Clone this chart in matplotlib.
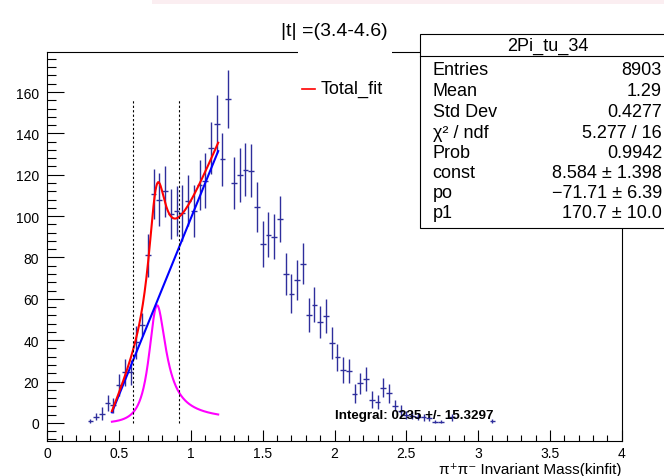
import numpy as np
import matplotlib
matplotlib.use('Agg')
import matplotlib.pyplot as plt
from matplotlib.patches import Rectangle
from matplotlib.lines import Line2D
from matplotlib.ticker import MultipleLocator

plt.rcParams['font.family'] = ['Liberation Sans', 'DejaVu Sans']

# histogram: 0.04 GeV bins, first filled bin centred at 0.30
bin_w = 0.04
first_center = 0.30
counts = [1, 3, 4.5, 9.5, 8.5, 18.5, 24.5, 24.5, 39, 47.5,
          81, 110.5, 108, 112, 101, 102.5, 101.5, 107.5, 102.5, 115,
          117, 133, 144.5, 127.5, 156.5, 116, 120, 122.5, 122, 104.5,
          86.5, 91, 90, 98.5, 72, 62.5, 69, 77, 52.3, 57.2,
          48.8, 51.7, 38.6, 31.8, 25.7, 25.1, 14.1, 19.2, 21.3, 11.3,
          10, 17.1, 14.4, 8.4, 6, 4, 3.5, 3, 2.7, 2.3,
          0.6, 0.6, 0, 2.7, 0, 0, 0, 0, 0, 0, 1.1]
errors = [1.0, 1.8, 3.0, 3.8, 3.6, 5.3, 6.5, 6.0, 8.0, 5.6,
          10.5, 12.1, 13.0, 12.3, 12.3, 12.1, 13.5, 12.5, 12.5, 12.1,
          13.3, 12.7, 14.1, 12.9, 14.1, 12.5, 13.1, 12.7, 12.8, 12.0,
          10.9, 10.9, 10.9, 11.2, 10.1, 9.5, 9.7, 9.9, 8.2, 8.5,
          7.9, 8.1, 7.7, 6.5, 6.2, 5.6, 4.6, 5.0, 5.7, 3.9,
          3.5, 4.6, 4.6, 2.7, 2.5, 2.0, 1.8, 1.7, 1.6, 1.5,
          0.8, 0.8, 0, 1.6, 0, 0, 0, 0, 0, 0, 1.0]

# fit results
p0, p1 = -71.71, 170.7          # linear background
bw_m0, bw_g0, bw_peak = 0.77, 0.15, 56.6
m_pi = 0.1396
fit_lo, fit_hi = 0.45, 1.19
cut_lines = [0.6, 0.92]
cut_top = 156

stats_rows = [('Entries', '8903'), ('Mean', '1.29'), ('Std Dev', '0.4277'),
              ('χ² / ndf', '5.277 / 16'), ('Prob', '0.9942'),
              ('const', '8.584 ± 1.398'), ('po', '−71.71 ± 6.39'),
              ('p1', '170.7 ± 10.0')]


def bw(m):
    q = np.sqrt(m ** 2 / 4 - m_pi ** 2)
    q0 = np.sqrt(bw_m0 ** 2 / 4 - m_pi ** 2)
    g = bw_g0 * (q / q0) ** 3 * bw_m0 / m
    return bw_peak * bw_g0 * m * bw_m0 * g / ((m ** 2 - bw_m0 ** 2) ** 2 + bw_m0 ** 2 * g ** 2)


W, H = 664, 477
fig = plt.figure(figsize=(W / 100, H / 100), dpi=100)


def fx(px):
    return px / W


def fy(py):
    return 1 - py / H


ax = fig.add_axes([fx(47.3), fy(441.5), fx(621.7) - fx(47.3), fy(52.7) - fy(441.5)])
ax.set_xlim(0, 4)
ax.set_ylim(-8.5, 179.5)

counts = np.array(counts)
errors = np.array(errors)
centers = first_center + bin_w * np.arange(len(counts))
filled = counts > 0
ax.errorbar(centers[filled], counts[filled], yerr=errors[filled], xerr=bin_w / 2,
            fmt='none', ecolor='#2e2e9c', elinewidth=1.0, capsize=0)

m = np.linspace(fit_lo, fit_hi, 300)
lin = p0 + p1 * m
ax.plot(m, bw(m), color='#ff00ff', lw=1.5)
ax.plot(m, lin, color='#0000ff', lw=1.5)
ax.plot(m, lin + bw(m), color='#ff0000', lw=1.5)

for xc in cut_lines:
    ax.plot([xc, xc], [0, cut_top], color='black', lw=0.8, ls=(0, (2, 2)))

ax.text(2.0, 3.9, 'Integral: 0235 +/- 15.3297', fontsize=9.6, fontweight='bold',
        va='center', ha='left')

ax.xaxis.set_major_locator(MultipleLocator(0.5))
ax.xaxis.set_minor_locator(MultipleLocator(0.1))
ax.yaxis.set_major_locator(MultipleLocator(20))
ax.yaxis.set_minor_locator(MultipleLocator(4))
ax.xaxis.set_major_formatter(plt.FuncFormatter(lambda v, p: f'{v:g}'))
ax.tick_params(axis='x', which='major', direction='in', length=8, width=0.8,
               labelsize=10, pad=4)
ax.tick_params(axis='x', which='minor', direction='in', length=4.3, width=0.8)
ax.tick_params(axis='y', which='major', direction='in', length=12.5, width=0.8,
               labelsize=10, pad=6)
ax.tick_params(axis='y', which='minor', direction='in', length=6.5, width=0.8)
for s in ax.spines.values():
    s.set_linewidth(0.8)

fig.text(fx(621.7), fy(470), 'π⁺π⁻ Invariant Mass(kinfit)', ha='right', va='center',
         fontsize=11)

# pad band and title
fig.add_artist(Rectangle((fx(152), fy(5)), 1, fy(0) - fy(5), transform=fig.transFigure,
                         facecolor='#fbeef1', edgecolor='none', zorder=5))
fig.add_artist(Rectangle((fx(298), fy(56)), fx(392) - fx(298), fy(45) - fy(56),
                         transform=fig.transFigure, facecolor='white',
                         edgecolor='none', zorder=5))
fig.text(fx(334), fy(32), '|t| =(3.4-4.6)', ha='center', va='center', fontsize=14,
         zorder=6)

# legend
fig.add_artist(Line2D([fx(302), fx(315)], [fy(89.5), fy(89.5)], color='#ff0000', lw=1.2,
                      transform=fig.transFigure, zorder=6))
fig.text(fx(321), fy(89.5), 'Total_fit', ha='left', va='center', fontsize=13, zorder=6)

# stats box
fig.add_artist(Rectangle((fx(420), fy(229)), fx(710) - fx(420), fy(35) - fy(229),
                         transform=fig.transFigure, facecolor='white',
                         edgecolor='black', lw=0.8, zorder=5))
fig.add_artist(Line2D([fx(420), fx(664)], [fy(57.3), fy(57.3)], color='black', lw=0.8,
                      transform=fig.transFigure, zorder=6))
fig.text(fx(548), fy(46.5), '2Pi_tu_34', ha='center', va='center', fontsize=13,
         zorder=6)
row_y = [70.7, 91, 112.3, 133.3, 153.3, 174, 193.3, 213.3]
for (lab, val), yy in zip(stats_rows, row_y):
    fig.text(fx(432.7), fy(yy), lab, ha='left', va='center', fontsize=13, zorder=6)
    fig.text(fx(662), fy(yy), val, ha='right', va='center', fontsize=13, zorder=6)

fig.savefig('out.png', dpi=100)
